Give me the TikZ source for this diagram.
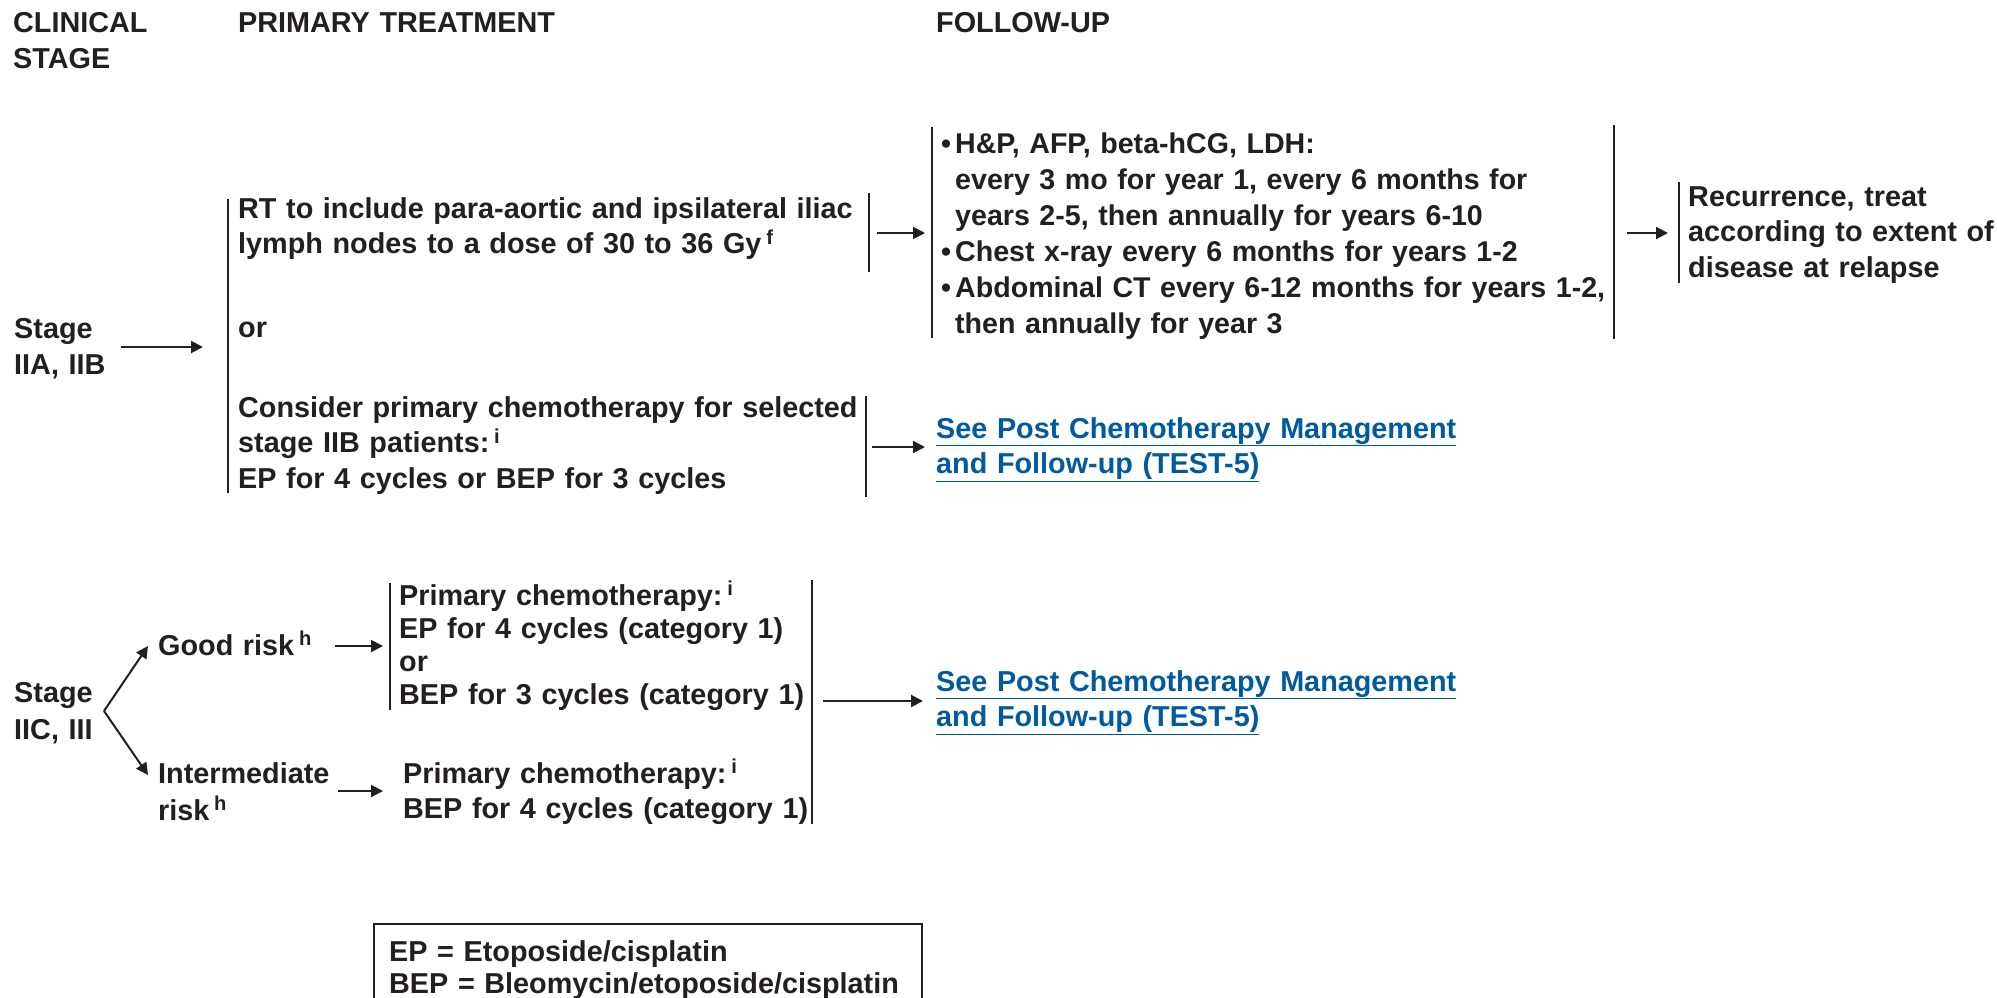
\documentclass[tikz,border=0pt]{standalone}
\usepackage{fontspec}
\setmainfont{Liberation Sans}
\usepackage{tikz}
\usetikzlibrary{arrows.meta}
\definecolor{ink}{HTML}{231F20}
\definecolor{linkblue}{RGB}{0,90,160}
\newcommand{\fnote}[1]{\,\textsuperscript{#1}}
\newcommand{\bul}{\leavevmode\llap{\textbullet\hspace{4pt}}}

\begin{document}
\begin{tikzpicture}[x=1pt,y=1pt,
  txt/.style={anchor=base west,inner sep=0pt,align=left,text width=700pt,
    font=\bfseries\fontsize{28.8}{35.5}\selectfont,text=ink},
  lnk/.style={txt,text=linkblue},
  bar/.style={draw=ink,line width=2pt},
  arr/.style={draw=ink,line width=2pt,-{Triangle[length=12pt,width=12pt]}}]
\useasboundingbox (0,0) rectangle (1997,-998);

\node[txt] (hstage) at (13,-33) {CLINICAL\\STAGE};
\node[txt] (hprim) at (238,-33) {PRIMARY TREATMENT};
\node[txt] (hfollow) at (936,-33) {FOLLOW-UP};

\node[txt,font=\bfseries\fontsize{28.8}{36}\selectfont] (stageA) at (14,-338) {Stage\\IIA, IIB};
\node[txt] (rt) at (238,-218) {RT to include para-aortic and ipsilateral iliac\\lymph nodes to a dose of 30 to 36 Gy\fnote{f}};
\node[txt] (orA) at (238,-337) {or};
\node[txt] (chemoA) at (238,-417) {Consider primary chemotherapy for selected\\stage IIB patients:\fnote{i}\\EP for 4 cycles or BEP for 3 cycles};
\node[txt,font=\bfseries\fontsize{28.6}{36}\selectfont] (follow) at (955,-153) {\bul H\&P, AFP, beta-hCG, LDH:\\every 3 mo for year 1, every 6 months for\\years 2-5, then annually for years 6-10\\\bul Chest x-ray every 6 months for years 1-2\\\bul Abdominal CT every 6-12 months for years 1-2,\\then annually for year 3};
\node[txt] (recur) at (1688,-206) {Recurrence, treat\\according to extent of\\disease at relapse};
\node[lnk] (linkA) at (936,-438) {\underline{See Post Chemotherapy Management}\\\underline{and Follow-up (TEST-5)}};

\coordinate (sA1) at (121,-347);
\coordinate (sA2) at (203,-347);
\coordinate (rt1) at (877,-233);
\coordinate (rt2) at (925,-233);
\coordinate (ch1) at (872,-447);
\coordinate (ch2) at (925,-447);
\coordinate (fo1) at (1627,-233);
\coordinate (fo2) at (1668,-233);

\draw[bar] (228,-199) -- (228,-493);
\draw[bar] (869,-193) -- (869,-272);
\draw[bar] (866,-396) -- (866,-497);
\draw[bar] (932,-127) -- (932,-338);
\draw[bar] (1614,-125) -- (1614,-339);
\draw[bar] (1679,-182) -- (1679,-283);

\draw[arr] (sA1) -- (sA2);
\draw[arr] (rt1) -- (rt2);
\draw[arr] (ch1) -- (ch2);
\draw[arr] (fo1) -- (fo2);

\node[txt,font=\bfseries\fontsize{28.8}{37}\selectfont] (stageB) at (14,-702) {Stage\\IIC, III};
\node[txt] (good) at (158,-655) {Good risk\fnote{h}};
\node[txt,font=\bfseries\fontsize{28.8}{37}\selectfont] (inter) at (158,-783) {Intermediate\\risk\fnote{h}};
\node[txt,font=\bfseries\fontsize{28.8}{33}\selectfont] (goodtx) at (399,-605) {Primary chemotherapy:\fnote{i}\\EP for 4 cycles (category 1)\\or\\BEP for 3 cycles (category 1)};
\node[txt] (intertx) at (403,-783) {Primary chemotherapy:\fnote{i}\\BEP for 4 cycles (category 1)};
\node[lnk] (linkB) at (936,-691) {\underline{See Post Chemotherapy Management}\\\underline{and Follow-up (TEST-5)}};

\coordinate (fork) at (104,-711);
\coordinate (gd) at (148,-646);
\coordinate (im) at (148,-775);
\coordinate (gd1) at (335,-646);
\coordinate (gd2) at (383,-646);
\coordinate (im1) at (338,-791);
\coordinate (im2) at (383,-791);
\coordinate (bx1) at (823,-701);
\coordinate (bx2) at (923,-701);

\draw[bar] (390,-583) -- (390,-710);
\draw[bar] (812,-580) -- (812,-824);

\draw[arr] (fork) -- (gd);
\draw[arr] (fork) -- (im);
\draw[arr] (gd1) -- (gd2);
\draw[arr] (im1) -- (im2);
\draw[arr] (bx1) -- (bx2);

\draw[draw=ink,line width=2.6pt] (374,-1010) -- (374,-924) -- (922,-924) -- (922,-1010);
\node[txt,font=\bfseries\fontsize{28.8}{32}\selectfont] (legend) at (389,-961) {EP = Etoposide/cisplatin\\BEP = Bleomycin/etoposide/cisplatin};
\end{tikzpicture}
\end{document}
